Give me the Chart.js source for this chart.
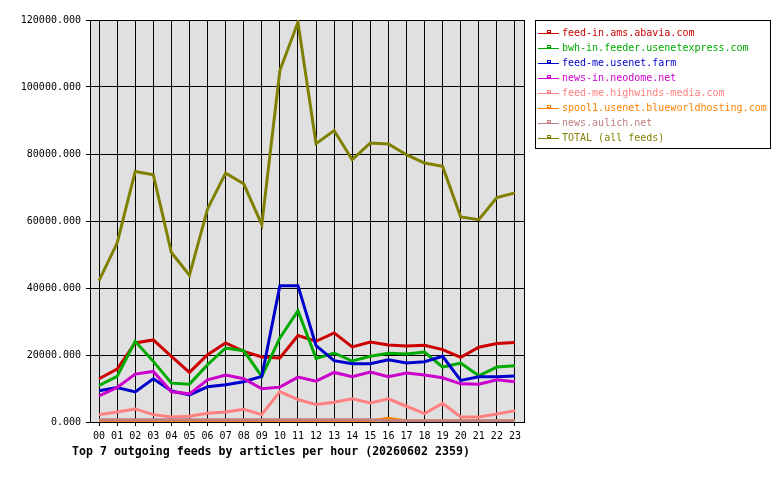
<!DOCTYPE html>
<html>
<head>
<meta charset="utf-8">
<script src="https://cdn.jsdelivr.net/npm/chart.js@4/dist/chart.umd.min.js"></script>
<style>
  html, body { margin: 0; padding: 0; background: #fff; }
</style>
</head>
<body>
<canvas id="grafico" width="780" height="480"></canvas>
<script>
const horas = ['00','01','02','03','04','05','06','07','08','09','10','11',
               '12','13','14','15','16','17','18','19','20','21','22','23'];

const nomes = [
  'feed-in.ams.abavia.com',
  'bwh-in.feeder.usenetexpress.com',
  'feed-me.usenet.farm',
  'news-in.neodome.net',
  'feed-me.highwinds-media.com',
  'spool1.usenet.blueworldhosting.com',
  'news.aulich.net',
  'TOTAL (all feeds)'
];
const cores = ['#cc0000', '#00aa00', '#0000cc', '#cc00cc', '#ff8080', '#ff8000', '#c08080', '#808000'];

const abavia    = [12900, 15800, 23600, 24500, 19600, 14800, 20100, 23600, 21100, 19400, 19100, 25800,
                   24100, 26600, 22400, 23900, 23000, 22700, 22900, 21600, 19300, 22300, 23400, 23700];
const usenetexp = [10900, 13600, 24100, 18100, 11600, 11300, 17100, 22100, 21300, 13600, 25100, 33200,
                   19000, 20600, 18200, 19600, 20500, 20300, 20900, 16400, 17600, 13800, 16400, 16800];
const usenetFarm = [9300, 10300, 9000, 12900, 9300, 8100, 10500, 11100, 12000, 13600, 40700, 40700,
                   22800, 18300, 17400, 17400, 18600, 17600, 18000, 19600, 12400, 13500, 13500, 13700];
const neodome   = [7800, 10300, 14300, 15100, 9000, 8400, 12600, 14000, 12900, 9900, 10400, 13400,
                   12200, 14800, 13500, 14900, 13500, 14600, 14000, 13200, 11400, 11300, 12600, 12000];
const highwinds = [2200, 3000, 3900, 2200, 1500, 1700, 2600, 3000, 3800, 2200, 9100, 6700,
                   5200, 5900, 6900, 5700, 6900, 4700, 2500, 5600, 1500, 1500, 2400, 3400];
const blueworld = [300, 300, 300, 300, 300, 300, 300, 300, 300, 300, 300, 300,
                   300, 300, 300, 300, 1100, 300, 300, 300, 300, 300, 300, 300];
const aulich    = [700, 700, 700, 700, 700, 700, 700, 700, 700, 700, 700, 700,
                   700, 700, 700, 700, 400, 400, 400, 400, 400, 400, 400, 400];
const total     = [42200, 53400, 74800, 73800, 50600, 43800, 63600, 74300, 71100, 58900, 104900, 119300,
                   83100, 87000, 78300, 83300, 83000, 79800, 77300, 76300, 61200, 60400, 67000, 68400];

const series = [abavia, usenetexp, usenetFarm, neodome, highwinds, blueworld, aulich, total];
const titulo = 'Top 7 outgoing feeds by articles per hour (20260602 2359)';
const mono = '"DejaVu Sans Mono", "Liberation Mono", monospace';

// fundo cinza da area do grafico + moldura, legenda e titulo desenhados a mao
const extras = {
  id: 'extras',
  beforeDraw(chart) {
    const { ctx, chartArea: a } = chart;
    ctx.save();
    ctx.fillStyle = '#ffffff';
    ctx.fillRect(0, 0, chart.width, chart.height);
    ctx.fillStyle = '#e0e0e0';
    ctx.fillRect(a.left, a.top, a.right - a.left, a.bottom - a.top);
    ctx.restore();
  },
  beforeDatasetsDraw(chart) {
    const { ctx, chartArea: a } = chart;
    ctx.save();
    ctx.strokeStyle = '#000';
    ctx.lineWidth = 1;
    ctx.beginPath();
    ctx.moveTo(Math.round(a.right) + 0.5, a.top);
    ctx.lineTo(Math.round(a.right) + 0.5, a.bottom);
    ctx.stroke();
    ctx.restore();
  },
  afterDraw(chart) {
    const ctx = chart.ctx;
    ctx.save();
    // legenda
    ctx.strokeStyle = '#000';
    ctx.lineWidth = 1;
    ctx.strokeRect(535.5, 20.5, 235, 128);
    ctx.font = '10px ' + mono;
    ctx.textBaseline = 'middle';
    nomes.forEach((n, i) => {
      const y = 33 + i * 15;
      ctx.strokeStyle = cores[i];
      ctx.beginPath();
      ctx.moveTo(538, y + 0.5);
      ctx.lineTo(559, y + 0.5);
      ctx.stroke();
      ctx.strokeRect(547.5, y - 2.5, 3, 2);
      ctx.fillStyle = cores[i];
      ctx.fillText(n, 562, y);
    });
    // titulo
    ctx.fillStyle = '#000';
    ctx.font = 'bold 11.6px ' + mono;
    ctx.fillText(titulo, 72, 452);
    ctx.restore();
  }
};

new Chart(grafico, {
  type: 'line',
  data: {
    labels: horas,
    datasets: series.map((s, i) => ({
      label: nomes[i],
      data: s,
      borderColor: cores[i],
      backgroundColor: cores[i],
      borderWidth: 3,
      pointRadius: 0,
      tension: 0,
      fill: false,
      order: series.length - i
    }))
  },
  options: {
    responsive: false,
    animation: false,
    layout: { padding: { top: 20, right: 256, bottom: 0, left: 0 } },
    plugins: {
      legend: { display: false },
      title: { display: false },
      tooltip: { enabled: false }
    },
    scales: {
      x: {
        offset: true,
        grid: { color: '#000', lineWidth: 1, offset: false, tickLength: 4 },
        border: { color: '#000', width: 1 },
        ticks: {
          color: '#000',
          font: { family: mono, size: 10 },
          padding: 4,
          maxRotation: 0,
          autoSkip: false
        },
        afterFit(s) { s.height = 58; }
      },
      y: {
        min: 0,
        max: 120000,
        grid: { color: '#000', lineWidth: 1, tickLength: 4 },
        border: { color: '#000', width: 1 },
        ticks: {
          stepSize: 20000,
          color: '#000',
          font: { family: mono, size: 10 },
          padding: 5,
          callback: v => v.toFixed(3)
        },
        afterFit(s) { s.width = 90; }
      }
    }
  },
  plugins: [extras]
});
</script>
</body>
</html>
